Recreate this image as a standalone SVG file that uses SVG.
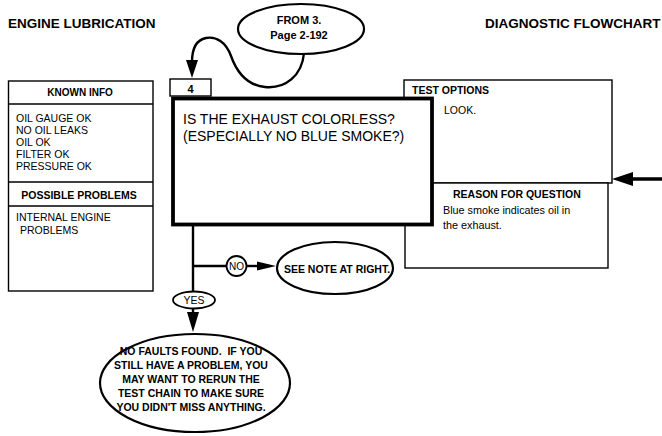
<svg xmlns="http://www.w3.org/2000/svg" width="662" height="436" viewBox="0 0 662 436">
<style>
text{font-family:"Liberation Sans",Arial,sans-serif;fill:#000}
.b{font-weight:bold}
.thin{fill:#fff;stroke:#000;stroke-width:1.4}
.conn{fill:none;stroke:#000;stroke-width:2.4}
.ah{fill:#000;stroke:none}
.oval{fill:#fff;stroke:#000;stroke-width:2.2}
</style>
<rect width="662" height="436" fill="#fff"/>
<g id="titles">
<text class="b" x="8" y="28" font-size="13.5">ENGINE LUBRICATION</text>
<text class="b" x="485" y="28" font-size="13.5">DIAGNOSTIC FLOWCHART</text>
</g>
<g id="connectors">
<path class="conn" d="M304,53 C302,76 285,89 265,87 C245,85 236,70 231,56 C226,42 216,36 206,38 C196,40 192,50 192,62"/>
<polygon class="ah" points="186,60 198,60 192,78"/>
<line class="conn" x1="193" y1="225" x2="193" y2="314"/>
<polygon class="ah" points="187,312 199,312 193,332"/>
<line class="conn" x1="193" y1="266" x2="227" y2="266"/>
<line class="conn" x1="246" y1="266" x2="260" y2="266"/>
<polygon class="ah" points="257,261.5 276,266 257,270.5"/>
<line x1="662" y1="179" x2="630" y2="179" stroke="#000" stroke-width="3.5"/>
<polygon class="ah" points="633,172 633,186 612,179"/>
</g>
<g id="from3">
<ellipse class="oval" cx="301" cy="29" rx="63" ry="25"/>
<text class="b" x="299" y="24" font-size="11" text-anchor="middle">FROM 3.</text>
<text class="b" x="299" y="39" font-size="11" text-anchor="middle">Page 2-192</text>
</g>
<g id="known">
<rect class="thin" x="8.5" y="81" width="144.5" height="210"/>
<line x1="8.5" y1="104" x2="153" y2="104" stroke="#000" stroke-width="1.4"/>
<line x1="8.5" y1="182" x2="153" y2="182" stroke="#000" stroke-width="1.4"/>
<line x1="8.5" y1="206" x2="153" y2="206" stroke="#000" stroke-width="1.4"/>
<text class="b" x="80" y="96" font-size="10" text-anchor="middle">KNOWN INFO</text>
<text x="16" y="122" font-size="10.5">OIL GAUGE OK</text>
<text x="16" y="134" font-size="10.5">NO OIL LEAKS</text>
<text x="16" y="146" font-size="10.5">OIL OK</text>
<text x="16" y="158" font-size="10.5">FILTER OK</text>
<text x="16" y="170" font-size="10.5">PRESSURE OK</text>
<text class="b" x="79" y="199" font-size="10.5" text-anchor="middle">POSSIBLE PROBLEMS</text>
<text x="16" y="221" font-size="10.5">INTERNAL ENGINE</text>
<text x="20" y="234" font-size="10.5">PROBLEMS</text>
</g>
<g id="test">
<rect class="thin" x="404" y="80" width="208" height="103"/>
<text class="b" x="412" y="94" font-size="10.5">TEST OPTIONS</text>
<text x="444" y="114" font-size="10.5">LOOK.</text>
</g>
<g id="reason">
<rect class="thin" x="405" y="183" width="203" height="85"/>
<text class="b" x="453" y="198" font-size="10.5">REASON FOR QUESTION</text>
<text x="443" y="214" font-size="10.8">Blue smoke indicates oil in</text>
<text x="443" y="229" font-size="10.8">the exhaust.</text>
</g>
<g id="step4">
<rect class="thin" x="170" y="79" width="41" height="17"/>
<text class="b" x="190.5" y="92.5" font-size="11" text-anchor="middle">4</text>
</g>
<g id="question">
<rect x="173" y="98.5" width="259" height="126" fill="#fff" stroke="#000" stroke-width="3.8"/>
<text x="183" y="124" font-size="14">IS THE EXHAUST COLORLESS?</text>
<text x="183" y="141" font-size="14">(ESPECIALLY NO BLUE SMOKE?)</text>
</g>
<g id="no">
<circle cx="236.5" cy="266" r="10" fill="#fff" stroke="#000" stroke-width="1.8"/>
<text x="236.5" y="270" font-size="10" text-anchor="middle">NO</text>
</g>
<g id="seenote">
<ellipse class="oval" cx="335" cy="268" rx="58" ry="26"/>
<text class="b" x="337" y="273" font-size="10.5" text-anchor="middle">SEE NOTE AT RIGHT.</text>
</g>
<g id="yes">
<ellipse cx="194" cy="300" rx="21" ry="8.5" fill="#fff" stroke="#000" stroke-width="1.8"/>
<text x="194" y="304" font-size="10.5" text-anchor="middle">YES</text>
</g>
<g id="nofaults">
<ellipse class="oval" cx="195" cy="383" rx="95" ry="49"/>
<text class="b" font-size="10.5" text-anchor="middle" xml:space="preserve"><tspan x="191" y="355">NO FAULTS FOUND.  IF YOU</tspan><tspan x="191" y="369">STILL HAVE A PROBLEM, YOU</tspan><tspan x="191" y="383">MAY WANT TO RERUN THE</tspan><tspan x="191" y="397">TEST CHAIN TO MAKE SURE</tspan><tspan x="191" y="411">YOU DIDN'T MISS ANYTHING.</tspan></text>
</g>
</svg>
